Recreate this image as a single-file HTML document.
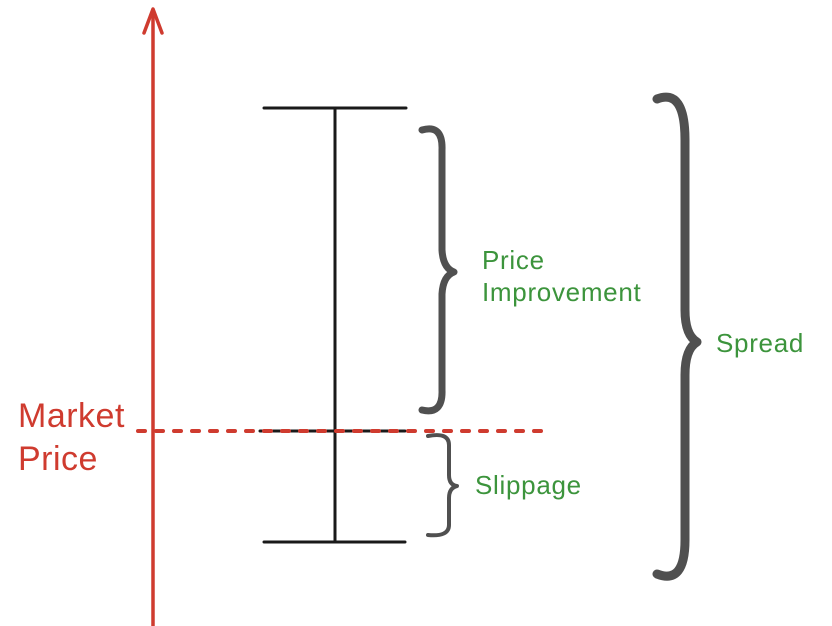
<!DOCTYPE html>
<html><head><style>
html,body{margin:0;padding:0;background:#fff;}
svg{display:block;}
</style></head><body>
<svg width="832" height="626" viewBox="0 0 832 626" xmlns="http://www.w3.org/2000/svg">
<g stroke="#1a1a1a" stroke-width="3" stroke-linecap="round" fill="none">
<line x1="264" y1="108" x2="406" y2="108"/>
<line x1="260" y1="431" x2="405" y2="431"/>
<line x1="264" y1="542" x2="405" y2="542"/>
<line x1="335" y1="108" x2="335" y2="542"/>
</g>
<g stroke="#cf3b2f" fill="none" stroke-linecap="round">
<line x1="153" y1="10" x2="153" y2="626" stroke-width="3.5"/>
<polyline points="144,33 153,9 162,33" stroke-width="3.5" stroke-linejoin="round"/>
<line x1="138" y1="431" x2="548" y2="431" stroke-width="4" stroke-dasharray="7,11"/>
</g>
<g stroke="#505050" fill="none" stroke-linecap="round" stroke-linejoin="round">
<path d="M422,130 Q443,124 442,150 L442,250 Q443,268 454,272 Q443,276 442,294 L442,390 Q443,415 422,410" stroke-width="7"/>
<path d="M428,436 Q449,432 449,445 L449,475 Q449,485 457,486 Q449,488 449,498 L449,525 Q449,537 428,535" stroke-width="4"/>
<path d="M657,99 Q685,88 685,140 L685,310 Q685,335 697,342 Q685,349 685,375 L685,540 Q685,585 657,574" stroke-width="9"/>
</g>
<g font-family="Liberation Sans, sans-serif" fill="#3c943c" font-size="26" letter-spacing="0.7">
<text x="482" y="269">Price</text>
<text x="482" y="301">Improvement</text>
<text x="475" y="494">Slippage</text>
<text x="716" y="352">Spread</text>
</g>
<g font-family="Liberation Sans, sans-serif" fill="#cf3b2f" font-size="34" letter-spacing="0.5">
<text x="18" y="427">Market</text>
<text x="18" y="470">Price</text>
</g>
</svg>
</body></html>
